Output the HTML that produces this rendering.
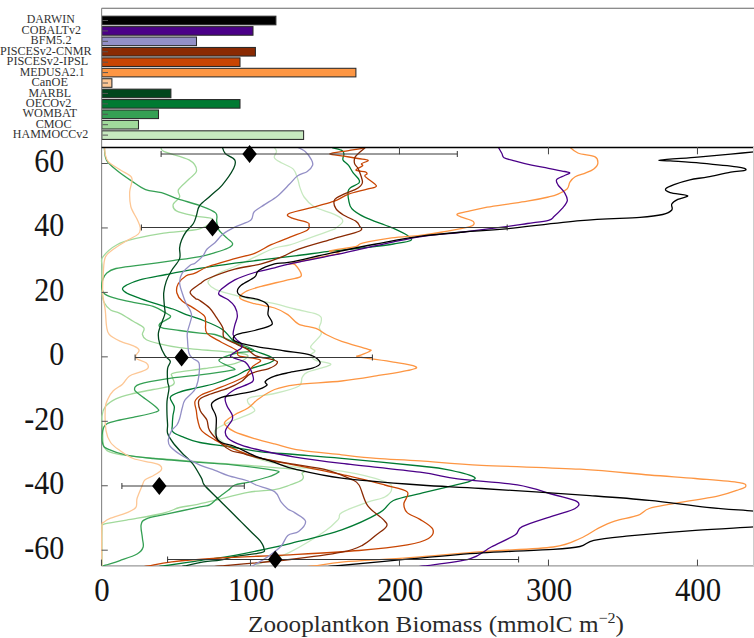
<!DOCTYPE html>
<html><head><meta charset="utf-8"><style>
html,body{margin:0;padding:0;background:#fff;width:754px;height:638px;overflow:hidden}
svg{display:block}
.lab{font-family:"Liberation Serif",serif;font-size:11.5px;fill:#333}
.tick{font-family:"Liberation Serif",serif;font-size:30px;fill:#151515}
.xl{font-family:"Liberation Serif",serif;font-size:23.5px;fill:#2a2a2a}
</style></head><body>
<svg width="754" height="638" viewBox="0 0 754 638">
<rect x="101.8" y="16.20" width="174.10" height="8.6" fill="#000000" stroke="#2a2a2a" stroke-width="1.05"/>
<line x1="102.5" y1="20.50" x2="108" y2="20.50" stroke="#555" stroke-width="1"/>
<text x="50.75" y="23.40" text-anchor="middle" textLength="48.1" lengthAdjust="spacingAndGlyphs" class="lab">DARWIN</text>
<rect x="101.8" y="26.62" width="151.20" height="8.6" fill="#4b0088" stroke="#2a2a2a" stroke-width="1.05"/>
<line x1="102.5" y1="30.92" x2="108" y2="30.92" stroke="#555" stroke-width="1"/>
<text x="51.30" y="33.84" text-anchor="middle" textLength="59.4" lengthAdjust="spacingAndGlyphs" class="lab">COBALTv2</text>
<rect x="101.8" y="37.04" width="94.70" height="8.6" fill="#938fc6" stroke="#2a2a2a" stroke-width="1.05"/>
<line x1="102.5" y1="41.34" x2="108" y2="41.34" stroke="#555" stroke-width="1"/>
<text x="51.05" y="44.29" text-anchor="middle" textLength="40.9" lengthAdjust="spacingAndGlyphs" class="lab">BFM5.2</text>
<rect x="101.8" y="47.46" width="153.60" height="8.6" fill="#8a2a03" stroke="#2a2a2a" stroke-width="1.05"/>
<line x1="102.5" y1="51.76" x2="108" y2="51.76" stroke="#555" stroke-width="1"/>
<text x="45.80" y="54.73" text-anchor="middle" textLength="91.6" lengthAdjust="spacingAndGlyphs" class="lab">PISCESv2-CNMR</text>
<rect x="101.8" y="57.88" width="138.20" height="8.6" fill="#c84503" stroke="#2a2a2a" stroke-width="1.05"/>
<line x1="102.5" y1="62.18" x2="108" y2="62.18" stroke="#555" stroke-width="1"/>
<text x="47.45" y="65.18" text-anchor="middle" textLength="81.7" lengthAdjust="spacingAndGlyphs" class="lab">PISCESv2-IPSL</text>
<rect x="101.8" y="68.30" width="254.10" height="8.6" fill="#fd9643" stroke="#2a2a2a" stroke-width="1.05"/>
<line x1="102.5" y1="72.60" x2="108" y2="72.60" stroke="#555" stroke-width="1"/>
<text x="52.15" y="75.62" text-anchor="middle" textLength="64.9" lengthAdjust="spacingAndGlyphs" class="lab">MEDUSA2.1</text>
<rect x="101.8" y="78.72" width="10.10" height="8.6" fill="#fdc795" stroke="#2a2a2a" stroke-width="1.05"/>
<line x1="102.5" y1="83.02" x2="108" y2="83.02" stroke="#555" stroke-width="1"/>
<text x="49.75" y="86.07" text-anchor="middle" textLength="36.5" lengthAdjust="spacingAndGlyphs" class="lab">CanOE</text>
<rect x="101.8" y="89.14" width="69.10" height="8.6" fill="#00471d" stroke="#2a2a2a" stroke-width="1.05"/>
<line x1="102.5" y1="93.44" x2="108" y2="93.44" stroke="#555" stroke-width="1"/>
<text x="49.75" y="96.52" text-anchor="middle" textLength="42.5" lengthAdjust="spacingAndGlyphs" class="lab">MARBL</text>
<rect x="101.8" y="99.56" width="138.20" height="8.6" fill="#007a32" stroke="#2a2a2a" stroke-width="1.05"/>
<line x1="102.5" y1="103.86" x2="108" y2="103.86" stroke="#555" stroke-width="1"/>
<text x="48.65" y="106.96" text-anchor="middle" textLength="45.7" lengthAdjust="spacingAndGlyphs" class="lab">OECOv2</text>
<rect x="101.8" y="109.98" width="56.70" height="8.6" fill="#35a054" stroke="#2a2a2a" stroke-width="1.05"/>
<line x1="102.5" y1="114.28" x2="108" y2="114.28" stroke="#555" stroke-width="1"/>
<text x="49.75" y="117.41" text-anchor="middle" textLength="54.5" lengthAdjust="spacingAndGlyphs" class="lab">WOMBAT</text>
<rect x="101.8" y="120.40" width="36.70" height="8.6" fill="#a1d99b" stroke="#2a2a2a" stroke-width="1.05"/>
<line x1="102.5" y1="124.70" x2="108" y2="124.70" stroke="#555" stroke-width="1"/>
<text x="53.60" y="127.85" text-anchor="middle" textLength="35.8" lengthAdjust="spacingAndGlyphs" class="lab">CMOC</text>
<rect x="101.8" y="130.82" width="201.80" height="8.6" fill="#c7e9c0" stroke="#2a2a2a" stroke-width="1.05"/>
<line x1="102.5" y1="135.12" x2="108" y2="135.12" stroke="#555" stroke-width="1"/>
<text x="50.55" y="138.30" text-anchor="middle" textLength="75.5" lengthAdjust="spacingAndGlyphs" class="lab">HAMMOCCv2</text>
<line x1="101.6" y1="8.2" x2="754" y2="8.2" stroke="#666" stroke-width="1.1"/>
<line x1="101.6" y1="8.2" x2="101.6" y2="147" stroke="#888" stroke-width="1.1"/>
<line x1="101.6" y1="147" x2="101.6" y2="566" stroke="#888" stroke-width="1.1"/>
<line x1="101.5" y1="565.9" x2="754" y2="565.9" stroke="#999" stroke-width="1.2"/>
<defs><clipPath id="pc"><rect x="100" y="147.5" width="660" height="418.5"/></clipPath></defs>
<g clip-path="url(#pc)" fill="none" stroke-width="1.3" stroke-linejoin="round" stroke-linecap="round">
<path d="M273.3,146.0 C273.8,146.9 276.3,149.5 276.5,151.4 C276.7,153.3 273.5,155.8 274.4,157.7 C275.3,159.6 278.6,161.1 281.8,163.0 C285.0,164.9 290.9,166.7 293.5,169.4 C296.1,172.1 296.6,176.0 297.7,179.0 C298.8,182.0 298.8,184.4 299.9,187.4 C301.0,190.4 301.8,193.8 304.1,197.0 C306.4,200.2 309.3,203.8 313.7,206.5 C318.1,209.2 326.0,211.0 330.6,212.9 C335.2,214.8 339.2,216.6 341.2,218.2 C343.1,219.8 343.2,220.9 342.3,222.5 C341.4,224.1 337.8,226.7 336.0,228.0 C334.2,229.3 336.2,228.4 331.4,230.2 C326.6,232.0 314.1,236.4 307.2,238.8 C300.3,241.2 295.4,243.3 290.0,244.8 C284.6,246.3 280.5,245.9 274.6,248.0 C268.7,250.1 261.3,254.1 254.7,257.2 C248.1,260.3 240.8,263.8 234.8,266.5 C228.8,269.2 223.3,270.8 218.9,273.2 C214.5,275.6 209.6,278.9 208.3,281.1 C207.0,283.3 208.7,284.6 210.9,286.4 C213.1,288.2 215.3,289.7 221.5,291.7 C227.7,293.7 239.2,296.4 248.0,298.4 C256.9,300.4 266.8,301.9 274.6,303.7 C282.4,305.5 288.1,307.3 295.0,309.0 C301.9,310.7 311.6,312.4 315.9,313.8 C320.2,315.2 320.1,315.8 321.0,317.2 C321.9,318.6 321.3,320.7 321.0,322.4 C320.7,324.1 319.3,325.6 319.3,327.6 C319.3,329.6 322.4,331.3 321.0,334.5 C319.6,337.7 311.7,343.9 310.7,346.6 C309.7,349.3 315.0,349.5 315.0,350.9 C315.0,352.3 310.6,353.6 310.7,355.2 C310.8,356.8 312.6,358.9 315.9,360.3 C319.2,361.7 329.1,362.7 330.5,363.8 C331.9,364.9 328.4,365.8 324.5,367.2 C320.6,368.6 310.9,370.7 307.2,372.4 C303.5,374.1 303.5,375.3 302.1,377.6 C300.7,379.9 303.2,383.6 298.6,386.2 C294.0,388.8 282.6,391.6 274.6,393.5 C266.6,395.4 255.1,395.9 250.7,397.4 C246.3,398.9 247.3,400.5 248.0,402.7 C248.7,404.9 255.8,408.3 254.7,410.7 C253.6,413.1 245.8,415.3 241.4,417.3 C237.0,419.3 232.6,420.4 228.2,422.6 C223.8,424.8 216.4,427.9 214.9,430.6 C213.4,433.3 215.6,435.5 218.9,438.6 C222.2,441.7 227.7,445.7 234.8,449.2 C241.9,452.7 251.3,456.8 261.3,459.8 C271.3,462.8 281.6,465.1 295.0,467.0 C308.4,468.9 326.7,468.8 341.7,471.2 C356.7,473.6 376.5,478.6 384.8,481.5 C393.1,484.4 391.7,485.8 391.7,488.4 C391.7,491.0 388.8,494.7 384.8,497.0 C380.8,499.3 374.8,499.6 367.6,502.2 C360.4,504.8 346.6,509.7 341.7,512.6 C336.8,515.5 341.2,516.2 338.3,519.4 C335.4,522.5 332.6,526.0 324.5,531.5 C316.4,537.0 299.1,547.5 290.0,552.2 C280.9,557.0 276.7,557.5 270.0,560.0 C263.3,562.5 253.3,565.8 250.0,567.0" stroke="#c7e9c0"/>
<path d="M161.5,146.0 C161.9,146.9 159.1,149.1 163.7,151.4 C168.3,153.7 183.6,156.7 189.1,159.9 C194.6,163.1 196.6,167.3 196.6,170.5 C196.6,173.7 192.1,175.8 189.1,179.0 C186.1,182.2 180.1,186.6 178.5,189.6 C176.9,192.6 180.5,194.5 179.6,197.0 C178.7,199.5 173.7,202.1 173.2,204.4 C172.7,206.7 172.7,208.9 176.4,210.8 C180.1,212.8 189.5,214.7 195.5,216.1 C201.5,217.5 211.8,217.2 212.5,219.3 C213.2,221.4 207.8,226.5 199.7,228.8 C191.6,231.1 174.3,231.5 163.7,233.1 C153.1,234.7 143.9,236.5 136.1,238.4 C128.3,240.3 122.6,241.6 117.0,244.7 C111.4,247.8 105.2,253.6 102.7,257.2 C100.2,260.8 102.1,260.5 102.0,266.5 C101.9,272.5 101.7,287.0 102.0,293.0 C102.3,299.0 102.6,299.5 104.0,302.3 C105.4,305.1 107.9,308.2 110.6,310.0 C113.2,311.8 116.1,311.4 119.9,313.3 C123.7,315.2 129.2,318.8 133.2,321.2 C137.2,323.6 142.3,325.7 143.8,327.9 C145.3,330.1 142.0,332.5 142.4,334.5 C142.8,336.5 143.5,338.2 146.4,339.8 C149.3,341.4 154.2,342.5 159.7,343.8 C165.2,345.1 172.9,346.7 179.6,347.7 C186.3,348.7 190.8,348.9 200.0,349.7 C209.2,350.5 226.8,351.6 234.8,352.6 C242.8,353.7 248.0,354.2 248.0,356.0 C248.0,357.8 242.0,361.5 234.8,363.6 C227.6,365.7 215.1,366.9 205.0,368.5 C194.9,370.1 179.8,371.5 174.3,372.9 C168.9,374.3 172.3,375.2 172.3,376.9 C172.3,378.6 174.6,381.3 174.3,382.9 C174.0,384.4 173.8,385.1 170.3,386.2 C166.8,387.3 159.3,388.3 153.1,389.5 C146.9,390.7 139.4,391.9 133.2,393.5 C127.0,395.1 120.6,396.6 115.9,398.8 C111.2,401.0 107.6,403.8 105.3,406.7 C103.0,409.6 102.4,412.0 102.0,416.0 C101.6,420.0 102.4,425.5 102.7,430.6 C103.0,435.7 102.2,442.7 104.0,446.5 C105.8,450.3 107.3,451.4 113.3,453.2 C119.3,455.0 131.0,456.1 139.8,457.1 C148.6,458.1 156.3,458.3 166.3,459.1 C176.3,459.9 178.6,460.1 200.0,461.8 C221.4,463.5 278.0,467.4 295.0,469.4 C312.0,471.4 300.9,472.1 302.1,473.8 C303.3,475.5 304.1,477.9 302.1,479.8 C300.1,481.7 294.6,483.4 290.0,485.0 C285.4,486.6 281.6,488.4 274.6,489.6 C267.6,490.8 257.9,490.5 248.0,492.3 C238.1,494.1 223.7,498.2 214.9,500.3 C206.1,502.4 200.9,503.7 195.0,504.9 C189.1,506.1 185.0,506.1 179.6,507.5 C174.2,508.9 171.2,511.4 162.3,513.5 C153.5,515.6 136.2,518.3 126.5,520.1 C116.8,521.9 108.1,522.5 104.0,524.1 C99.9,525.8 102.3,522.9 102.0,530.0 C101.7,537.1 102.0,560.8 102.0,567.0" stroke="#a1d99b"/>
<path d="M104.2,146.0 C104.6,148.3 104.3,155.8 106.4,159.9 C108.5,164.0 112.8,167.0 117.0,170.5 C121.2,174.0 127.0,177.9 131.8,181.1 C136.6,184.3 140.7,187.7 145.6,189.6 C150.5,191.5 156.0,191.1 161.5,192.7 C167.0,194.3 172.1,197.0 178.5,199.1 C184.9,201.2 193.5,203.2 199.7,205.5 C205.9,207.8 212.8,210.2 215.6,212.9 C218.4,215.6 216.2,218.6 216.7,221.4 C217.2,224.2 217.0,227.1 218.8,229.9 C220.6,232.7 225.0,236.1 227.3,238.4 C229.6,240.7 232.4,242.1 232.6,243.7 C232.8,245.3 231.1,246.5 228.2,248.0 C225.2,249.5 219.6,251.2 214.9,252.6 C210.2,254.0 207.0,255.3 200.0,256.6 C193.0,257.9 182.9,259.2 172.9,260.6 C162.9,262.0 149.3,263.9 139.8,265.2 C130.3,266.5 121.4,267.2 115.9,268.5 C110.4,269.8 108.8,271.3 106.6,273.2 C104.4,275.1 103.5,277.1 102.7,279.8 C101.9,282.5 101.6,286.7 102.0,289.1 C102.4,291.5 103.0,292.8 105.3,294.4 C107.6,295.9 111.2,297.1 115.9,298.4 C120.6,299.7 127.0,301.0 133.2,302.3 C139.4,303.6 147.6,304.5 153.1,306.3 C158.6,308.1 163.4,311.5 166.3,313.3 C169.2,315.1 171.4,315.4 170.3,317.2 C169.2,319.0 161.0,322.1 159.7,323.9 C158.4,325.7 159.0,326.8 162.3,327.9 C165.6,329.0 173.3,329.6 179.6,330.5 C185.9,331.4 194.1,332.5 200.0,333.2 C205.9,333.9 209.1,333.0 214.9,334.5 C220.7,336.0 228.3,339.8 234.8,342.4 C241.3,345.0 253.7,348.6 254.0,350.4 C254.3,352.2 242.7,351.5 236.8,353.1 C231.0,354.8 219.5,357.8 218.9,360.3 C218.3,362.8 231.5,366.6 233.5,368.3 C235.5,370.0 236.4,369.2 230.8,370.3 C225.2,371.4 210.8,373.5 200.0,374.9 C189.2,376.3 176.3,377.3 166.3,378.9 C156.3,380.4 145.1,382.4 139.8,384.2 C134.5,386.0 134.5,387.7 134.5,389.5 C134.5,391.3 136.1,391.7 139.8,394.8 C143.6,397.9 154.3,405.1 157.0,408.0 C159.7,410.9 159.7,410.4 155.7,412.0 C151.7,413.6 139.2,416.0 133.2,417.3 C127.2,418.6 124.3,418.9 119.9,420.0 C115.5,421.1 109.5,422.2 106.6,424.0 C103.7,425.8 103.3,427.3 102.7,430.6 C102.1,433.9 101.8,440.8 102.7,443.9 C103.6,447.0 104.0,447.3 108.0,449.2 C112.0,451.1 119.0,453.6 126.5,455.1 C134.0,456.7 140.8,457.3 153.1,458.5 C165.3,459.7 186.4,461.3 200.0,462.4 C213.6,463.5 222.4,463.8 234.8,465.1 C247.2,466.4 267.5,469.1 274.6,470.4 C281.7,471.7 278.3,471.9 277.2,473.0 C276.1,474.1 272.8,475.4 267.9,477.0 C263.0,478.6 253.5,481.0 248.0,482.3 C242.5,483.6 238.1,483.7 234.8,485.0 C231.5,486.3 231.1,488.1 228.2,490.3 C225.3,492.5 220.6,495.9 217.5,498.3 C214.4,500.7 212.5,503.5 209.6,504.9 C206.7,506.3 207.2,505.3 200.0,506.9 C192.8,508.4 175.2,512.2 166.3,514.2 C157.4,516.2 150.6,517.0 146.4,518.8 C142.2,520.6 141.8,521.6 141.1,524.8 C140.4,528.0 142.1,534.2 142.4,538.0 C142.7,541.8 144.0,544.6 143.1,547.3 C142.2,550.0 141.0,551.8 137.1,554.0 C133.2,556.2 125.2,558.7 119.9,560.6 C114.6,562.5 108.6,564.1 105.3,565.2 C102.0,566.3 100.9,566.7 100.0,567.0" stroke="#35a054"/>
<path d="M330.0,146.5 C330.5,146.7 330.8,147.1 332.8,147.8 C334.8,148.5 340.2,149.5 342.1,150.6 C344.0,151.7 343.8,152.8 343.9,154.3 C344.0,155.9 342.2,158.1 343.0,159.9 C343.8,161.8 346.9,163.2 348.6,165.4 C350.3,167.6 351.5,170.6 353.2,172.9 C354.9,175.2 357.9,177.7 358.8,179.4 C359.7,181.1 360.2,181.7 358.8,183.1 C357.4,184.5 352.2,186.3 350.4,187.7 C348.6,189.1 348.4,189.3 348.1,191.4 C347.8,193.5 348.1,197.3 348.7,200.2 C349.3,203.1 349.2,205.9 351.9,208.7 C354.5,211.5 359.1,214.4 364.6,217.1 C370.1,219.8 380.3,223.2 384.8,225.0 C389.3,226.8 388.0,225.9 391.7,227.6 C395.4,229.3 404.0,233.2 407.2,235.3 C410.4,237.5 413.0,239.1 410.7,240.5 C408.4,241.9 400.6,242.8 393.4,244.0 C386.2,245.2 377.7,246.2 367.6,247.4 C357.6,248.6 345.2,249.5 333.1,250.9 C321.0,252.3 307.0,254.4 295.0,255.9 C283.0,257.4 271.3,258.7 261.3,259.9 C251.3,261.1 245.9,261.6 234.8,263.2 C223.8,264.8 206.4,267.3 195.0,269.2 C183.6,271.1 175.5,272.7 166.3,274.5 C157.1,276.3 146.4,278.0 139.8,279.8 C133.2,281.6 129.4,283.6 126.5,285.1 C123.6,286.7 122.3,287.7 122.5,289.1 C122.7,290.5 125.0,292.1 127.9,293.7 C130.8,295.2 135.2,296.7 139.8,298.4 C144.4,300.1 150.2,301.9 155.7,303.7 C161.2,305.5 167.8,307.2 172.9,309.0 C178.0,310.8 181.7,312.9 186.2,314.6 C190.7,316.3 194.0,316.8 200.0,319.2 C206.0,321.6 215.9,325.1 222.0,329.2 C228.1,333.3 231.5,340.4 236.8,344.0 C242.1,347.6 247.8,347.8 254.0,350.5 C260.2,353.2 275.0,356.8 274.0,360.0 C273.0,363.2 254.5,366.9 248.0,369.6 C241.5,372.3 240.3,373.9 234.8,376.2 C229.3,378.5 221.5,381.5 214.9,383.5 C208.3,385.5 200.9,386.8 195.0,388.2 C189.1,389.6 183.7,390.6 179.6,392.1 C175.5,393.6 171.2,395.0 170.3,397.4 C169.4,399.8 173.9,403.6 174.3,406.7 C174.7,409.8 173.2,412.9 172.9,416.0 C172.6,419.1 172.3,422.4 172.3,425.0 C172.3,427.6 171.2,430.0 172.9,431.9 C174.6,433.8 177.7,434.8 182.2,436.6 C186.7,438.4 192.3,440.9 200.0,442.5 C207.7,444.1 218.0,444.9 228.2,446.5 C238.4,448.1 250.2,450.5 261.3,451.8 C272.4,453.1 281.6,453.4 295.0,454.5 C308.4,455.6 320.9,456.4 341.7,458.3 C362.5,460.2 402.6,464.1 420.0,466.0 C437.4,467.9 436.9,467.6 445.8,469.4 C454.7,471.2 469.3,474.6 473.3,476.6 C477.3,478.6 474.3,479.5 469.7,481.3 C465.1,483.1 454.1,485.2 445.8,487.3 C437.5,489.4 428.7,491.4 420.0,493.6 C411.3,495.8 400.1,497.3 393.4,500.5 C386.7,503.7 388.3,507.7 379.7,512.6 C371.1,517.5 356.6,524.6 341.7,529.8 C326.8,535.0 303.4,540.2 290.0,543.6 C276.6,547.0 270.5,548.0 261.3,550.0 C252.1,552.0 245.9,553.4 234.8,555.3 C223.8,557.2 206.9,559.5 195.0,561.3 C183.1,563.1 170.0,565.0 163.3,566.0 C156.6,567.0 156.4,566.8 155.0,567.0" stroke="#007a32"/>
<path d="M222.0,146.0 C222.5,147.2 223.1,151.2 225.2,153.5 C227.3,155.8 233.3,157.4 234.7,159.9 C236.1,162.4 235.8,164.1 233.7,168.3 C231.6,172.5 225.9,180.7 222.0,185.3 C218.1,189.9 214.0,192.5 210.3,195.9 C206.6,199.3 202.0,202.3 199.7,205.5 C197.4,208.7 197.6,212.0 196.6,215.0 C195.6,218.0 195.2,220.7 193.4,223.5 C191.6,226.3 187.9,229.2 185.9,232.0 C183.9,234.8 182.7,237.3 181.6,240.0 C180.5,242.7 179.9,244.9 179.6,248.0 C179.3,251.1 180.9,254.9 179.6,258.6 C178.3,262.4 173.8,266.8 171.6,270.5 C169.4,274.2 167.6,277.4 166.3,281.1 C165.0,284.9 164.0,289.0 163.7,293.0 C163.4,297.0 164.1,301.6 164.3,305.0 C164.5,308.4 165.3,310.6 165.0,313.3 C164.7,316.0 163.4,317.9 162.3,321.2 C161.2,324.5 158.8,329.4 158.4,333.2 C158.0,337.0 158.6,340.1 159.7,343.8 C160.8,347.6 163.2,352.8 165.0,355.7 C166.8,358.6 169.9,359.2 170.3,361.3 C170.7,363.4 168.1,364.9 167.6,368.3 C167.1,371.7 167.4,378.2 167.6,381.5 C167.8,384.8 169.1,384.9 169.0,388.2 C168.9,391.5 167.3,397.0 167.0,401.4 C166.7,405.8 166.9,410.8 167.0,414.7 C167.1,418.6 167.5,421.9 167.6,425.0 C167.7,428.1 166.7,430.4 167.6,433.3 C168.5,436.2 170.5,439.2 172.9,442.5 C175.3,445.8 178.9,449.6 182.2,453.2 C185.5,456.8 189.6,459.6 192.8,463.8 C196.0,468.0 199.7,474.9 201.6,478.4 C203.5,481.9 201.7,481.7 204.3,485.0 C207.0,488.3 213.1,493.9 217.5,498.3 C221.9,502.7 226.8,507.5 230.8,511.5 C234.8,515.5 237.9,518.6 241.4,522.1 C244.9,525.6 248.9,529.6 252.0,532.7 C255.1,535.8 258.0,538.0 260.0,540.7 C262.0,543.4 263.8,546.7 264.0,548.7 C264.2,550.7 266.2,551.3 261.3,552.6 C256.4,553.9 241.7,555.3 234.8,556.6 C227.9,557.9 225.2,559.3 220.0,560.2 C214.8,561.1 209.6,560.8 203.7,561.8 C197.8,562.8 188.5,565.1 184.6,566.0 C180.7,566.9 180.8,566.8 180.0,567.0" stroke="#00471d"/>
<path d="M104.7,146.0 C104.8,147.2 104.5,150.8 105.1,153.5 C105.7,156.2 105.8,159.2 108.5,162.0 C111.2,164.8 117.3,167.8 121.2,170.5 C125.1,173.2 130.4,174.4 131.8,177.9 C133.2,181.4 129.9,186.9 129.7,191.7 C129.5,196.5 129.6,201.9 130.8,206.5 C132.0,211.1 135.5,215.8 137.1,219.3 C138.7,222.9 140.1,225.3 140.3,227.8 C140.5,230.3 140.3,232.1 138.2,234.1 C136.1,236.1 132.1,237.5 127.9,240.0 C123.8,242.5 117.1,246.4 113.3,249.3 C109.5,252.2 107.0,253.2 105.3,257.2 C103.6,261.2 103.7,267.2 103.3,273.2 C102.9,279.2 102.4,286.8 102.7,293.0 C103.0,299.2 104.7,305.0 105.3,310.6 C105.9,316.2 105.9,322.5 106.6,326.5 C107.3,330.5 107.1,332.1 109.3,334.5 C111.5,336.9 115.7,339.1 119.9,341.1 C124.1,343.1 131.3,344.8 134.5,346.4 C137.7,347.9 138.9,348.8 139.1,350.4 C139.3,351.9 136.1,354.3 135.8,355.7 C135.5,357.1 135.3,357.8 137.1,359.0 C138.9,360.2 144.6,361.4 146.4,363.0 C148.2,364.6 148.8,366.8 147.7,368.3 C146.6,369.8 142.9,370.9 139.8,372.2 C136.7,373.5 132.1,374.2 129.2,376.2 C126.3,378.2 125.2,381.8 122.5,384.2 C119.8,386.6 115.7,388.4 113.3,390.8 C110.9,393.2 109.3,395.9 108.0,398.8 C106.7,401.7 105.6,402.7 105.3,408.0 C105.0,413.3 105.1,424.9 106.0,430.6 C106.9,436.4 108.3,439.2 110.6,442.5 C112.9,445.8 116.1,447.8 119.9,450.5 C123.7,453.2 128.1,456.5 133.2,458.5 C138.3,460.5 146.0,461.3 150.4,462.4 C154.8,463.5 157.9,463.8 159.7,465.1 C161.5,466.4 162.1,468.6 161.0,470.4 C159.9,472.2 155.8,474.1 153.1,475.7 C150.4,477.2 146.9,478.1 145.1,479.7 C143.3,481.2 143.7,481.9 142.4,485.0 C141.1,488.1 138.2,494.6 137.1,498.3 C136.0,502.1 137.6,505.1 135.8,507.5 C134.0,509.9 130.7,511.1 126.5,512.9 C122.3,514.7 114.3,516.7 110.6,518.2 C106.8,519.7 105.5,520.6 104.0,522.1 C102.5,523.6 102.3,519.9 101.9,527.4 C101.5,534.9 101.8,560.4 101.8,567.0" stroke="#fdc795"/>
<path d="M568.6,146.0 C570.1,147.2 573.5,151.2 577.9,153.0 C582.3,154.8 591.8,155.1 595.1,156.9 C598.4,158.7 598.0,161.6 597.8,163.6 C597.6,165.6 595.8,167.3 593.8,168.9 C591.8,170.5 588.9,171.6 585.8,172.9 C582.7,174.2 577.9,175.3 575.2,176.8 C572.6,178.3 571.2,180.1 569.9,182.1 C568.6,184.1 569.3,186.8 567.3,188.8 C565.3,190.8 561.1,192.7 558.0,194.1 C554.9,195.5 553.6,195.8 548.5,197.0 C543.4,198.2 534.4,200.0 527.3,201.2 C520.2,202.4 513.2,203.3 506.1,204.4 C499.0,205.5 490.9,206.5 484.9,207.6 C478.9,208.7 474.6,209.7 470.0,210.8 C465.4,211.9 458.7,212.9 457.3,214.0 C455.9,215.1 458.9,215.9 461.5,217.1 C464.1,218.3 471.8,219.8 473.2,221.4 C474.6,223.0 475.1,224.9 470.0,226.7 C464.9,228.5 450.7,230.6 442.4,232.0 C434.1,233.4 428.4,234.3 420.0,235.3 C411.6,236.3 401.3,236.6 391.7,237.9 C382.1,239.2 368.4,241.7 362.4,243.1 C356.4,244.5 360.9,245.3 355.5,246.6 C350.1,247.9 332.3,249.8 329.7,250.9 C327.1,252.0 340.6,252.6 340.0,253.4 C339.4,254.2 334.5,254.3 326.2,256.0 C317.9,257.7 295.2,262.4 290.0,263.8 C284.8,265.2 293.3,262.7 295.2,264.7 C297.1,266.7 302.4,273.4 301.2,275.9 C300.0,278.4 294.4,278.1 287.8,279.8 C281.2,281.6 268.4,284.4 261.3,286.4 C254.2,288.4 248.9,289.7 245.4,291.7 C241.9,293.7 238.6,296.4 240.1,298.4 C241.6,300.4 248.9,302.1 254.7,303.7 C260.4,305.3 269.1,306.2 274.6,308.0 C280.1,309.8 283.8,311.9 287.8,314.6 C291.8,317.3 293.9,321.8 298.6,324.1 C303.3,326.4 311.3,326.7 315.9,328.4 C320.5,330.1 321.9,332.3 326.2,334.5 C330.5,336.7 334.8,339.0 341.7,341.4 C348.6,343.8 362.9,347.5 367.6,349.1 C372.4,350.7 371.4,349.9 370.2,350.9 C369.0,351.9 362.6,354.2 360.7,355.2 C358.8,356.2 353.6,355.8 359.0,356.9 C364.4,358.0 384.1,360.5 393.4,362.1 C402.7,363.7 412.1,365.1 415.0,366.4 C417.9,367.7 417.2,368.2 410.7,369.8 C404.2,371.4 387.7,374.0 376.2,375.9 C364.7,377.8 355.2,379.5 341.7,381.0 C328.2,382.5 306.2,383.4 295.0,384.8 C283.8,386.2 280.7,387.2 274.6,389.5 C268.6,391.8 263.1,395.7 258.7,398.8 C254.3,401.9 252.0,405.4 248.0,408.0 C244.0,410.6 238.6,412.5 234.8,414.7 C231.1,416.9 227.1,419.5 225.5,421.3 C223.9,423.1 223.9,423.5 225.5,425.3 C227.1,427.1 229.9,429.7 234.8,431.9 C239.7,434.1 248.1,436.6 254.7,438.6 C261.3,440.6 267.0,442.0 274.6,443.9 C282.2,445.8 289.1,448.4 300.3,450.2 C311.5,452.0 329.1,453.4 341.7,454.8 C354.3,456.2 363.1,457.3 376.2,458.3 C389.2,459.3 402.4,459.7 420.0,460.9 C437.6,462.1 454.9,463.9 481.6,465.3 C508.3,466.7 552.1,467.6 580.0,469.2 C607.9,470.8 630.0,473.4 649.2,475.0 C668.4,476.6 680.4,477.2 695.4,478.5 C710.4,479.8 730.8,481.3 739.2,482.6 C747.6,483.9 745.7,485.4 745.7,486.5 C745.7,487.6 743.7,487.9 739.2,489.5 C734.7,491.1 729.6,493.4 718.5,495.8 C707.4,498.2 683.8,501.7 672.3,503.8 C660.8,505.9 655.0,506.6 649.2,508.5 C643.4,510.4 643.5,513.3 637.7,515.4 C631.9,517.5 621.1,519.1 614.6,521.2 C608.1,523.3 604.3,525.2 598.5,528.1 C592.7,531.0 587.5,535.4 580.0,538.5 C572.5,541.6 569.6,544.8 553.2,547.0 C536.8,549.2 505.5,549.9 481.6,551.7 C457.7,553.5 433.0,556.0 410.0,557.7 C387.0,559.4 359.7,560.4 343.7,561.8 C327.7,563.2 321.3,565.1 314.0,566.0 C306.7,566.9 302.3,566.8 300.0,567.0" stroke="#fd9643"/>
<path d="M366.0,146.5 C365.7,146.7 367.3,147.1 364.4,147.8 C361.5,148.5 354.3,149.6 348.6,150.6 C342.9,151.6 330.8,152.9 330.0,153.8 C329.2,154.7 339.2,155.3 343.9,156.1 C348.5,156.9 353.9,157.8 357.9,158.5 C361.9,159.2 367.5,159.5 368.1,160.3 C368.7,161.2 362.5,162.7 361.6,163.6 C360.7,164.5 363.4,164.8 362.5,165.9 C361.6,167.0 355.5,169.1 356.0,170.1 C356.5,171.1 363.4,171.3 365.3,171.9 C367.2,172.5 367.1,173.0 367.1,173.8 C367.1,174.6 363.8,174.6 365.3,176.6 C366.9,178.6 376.1,183.8 376.4,185.9 C376.7,188.0 371.7,187.7 367.1,189.1 C362.5,190.5 353.6,192.4 348.6,194.2 C343.7,196.0 340.4,198.5 337.4,199.8 C334.4,201.2 335.6,200.8 330.6,202.3 C325.6,203.8 314.4,206.8 307.3,208.7 C300.2,210.6 290.7,212.4 288.2,214.0 C285.7,215.6 289.2,216.8 292.4,218.2 C295.6,219.6 304.5,221.4 307.3,222.5 C310.1,223.6 309.0,223.7 309.0,225.0 C309.0,226.3 310.4,228.2 307.2,230.2 C304.0,232.2 296.0,234.7 290.0,237.1 C284.0,239.5 277.1,242.0 271.2,244.7 C265.3,247.4 260.8,251.0 254.7,253.3 C248.6,255.6 242.5,256.4 234.8,258.6 C227.1,260.8 214.9,264.1 208.3,266.5 C201.7,268.9 198.7,271.6 195.0,273.2 C191.3,274.8 189.0,274.0 186.2,275.8 C183.4,277.6 179.8,280.9 178.2,283.8 C176.6,286.7 176.2,290.1 176.9,293.0 C177.6,295.9 179.5,298.6 182.2,301.0 C184.8,303.4 189.1,305.1 192.8,307.6 C196.5,310.1 202.2,313.4 204.3,315.9 C206.4,318.4 205.2,319.6 205.6,322.5 C206.0,325.4 204.3,329.9 206.9,333.2 C209.5,336.4 215.9,339.1 220.9,342.0 C225.9,344.9 233.8,348.2 236.8,350.5 C239.8,352.8 235.1,354.2 239.0,355.8 C242.9,357.4 257.9,358.2 260.2,360.0 C262.5,361.8 254.8,364.1 252.7,366.4 C250.6,368.7 248.6,372.2 247.4,373.8 C246.2,375.4 247.5,374.9 245.4,376.2 C243.3,377.5 239.9,379.3 234.8,381.5 C229.7,383.7 220.4,387.3 214.9,389.5 C209.4,391.7 204.9,392.8 201.6,394.8 C198.3,396.8 195.9,398.8 195.0,401.4 C194.1,404.0 195.9,407.6 196.3,410.7 C196.8,413.8 196.8,416.7 197.7,420.0 C198.6,423.3 198.7,427.3 201.6,430.6 C204.5,433.9 210.5,437.2 214.9,439.9 C219.3,442.5 222.7,444.1 228.2,446.5 C233.7,448.9 241.4,452.3 248.0,454.5 C254.6,456.7 260.1,458.0 267.9,459.8 C275.7,461.6 281.3,462.4 295.0,465.1 C308.7,467.9 335.3,473.0 350.3,476.3 C365.3,479.6 375.3,482.4 384.8,485.0 C394.3,487.6 404.0,488.8 407.2,491.9 C410.4,495.0 403.8,500.4 403.8,503.9 C403.8,507.3 404.5,510.0 407.2,512.6 C409.9,515.2 415.8,516.6 420.0,519.4 C424.2,522.1 431.3,525.9 432.7,529.1 C434.1,532.3 432.7,535.9 428.5,538.5 C424.3,541.1 418.9,542.9 407.3,544.9 C395.7,546.9 378.6,548.9 359.0,550.5 C339.4,552.1 313.2,553.5 290.0,554.8 C266.8,556.0 239.7,556.8 220.0,558.0 C200.3,559.2 183.7,560.5 171.8,561.8 C159.9,563.1 153.8,565.1 148.5,566.0 C143.2,566.9 141.4,566.8 140.0,567.0" stroke="#c84503"/>
<path d="M366.0,146.5 C365.7,146.8 365.3,147.4 364.4,148.2 C363.5,149.0 362.2,150.0 360.6,151.5 C359.1,153.0 356.1,155.1 355.1,157.1 C354.1,159.1 354.1,161.8 354.6,163.6 C355.1,165.4 356.9,166.3 357.9,168.2 C358.9,170.0 359.8,172.4 360.6,174.7 C361.4,177.0 362.5,180.2 362.5,182.1 C362.5,184.0 361.8,184.7 360.6,185.9 C359.4,187.2 357.9,188.2 355.1,189.6 C352.3,191.0 347.3,192.5 343.9,194.2 C340.5,195.9 335.9,197.4 334.6,199.8 C333.3,202.2 334.4,206.2 335.9,208.7 C337.4,211.2 340.0,212.9 343.4,215.0 C346.8,217.1 353.4,219.6 356.1,221.4 C358.8,223.2 358.9,224.4 359.5,226.0 C360.1,227.6 364.2,228.9 359.8,231.0 C355.4,233.1 343.3,235.8 333.1,238.8 C322.9,241.8 307.2,246.0 298.6,249.1 C290.0,252.2 287.4,254.7 281.2,257.2 C275.0,259.7 269.0,261.9 261.3,263.9 C253.6,265.9 243.6,266.8 234.8,269.2 C226.0,271.6 214.1,276.1 208.3,278.5 C202.5,280.9 203.0,281.6 200.0,283.8 C197.0,286.0 190.9,289.3 190.2,291.7 C189.4,294.1 194.0,297.0 195.5,298.4 C197.0,299.8 196.7,298.4 199.0,300.0 C201.3,301.6 206.7,305.1 209.6,308.0 C212.5,310.9 214.0,313.9 216.2,317.2 C218.4,320.5 221.6,324.5 222.9,327.9 C224.2,331.3 221.8,335.0 224.1,337.7 C226.4,340.4 232.9,342.2 236.8,344.1 C240.7,346.1 244.2,347.4 247.4,349.4 C250.6,351.3 251.5,354.0 255.9,355.8 C260.3,357.6 270.5,358.8 274.0,360.0 C277.5,361.2 277.9,361.8 277.1,363.2 C276.3,364.6 273.7,366.6 269.3,368.3 C264.9,370.0 255.3,371.4 250.7,373.6 C246.0,375.8 245.2,379.1 241.4,381.5 C237.7,383.9 233.7,386.0 228.2,388.2 C222.7,390.4 213.2,392.8 208.3,394.8 C203.4,396.8 200.3,397.5 199.0,400.1 C197.7,402.8 199.0,407.4 200.3,410.7 C201.6,414.0 205.4,416.7 206.9,420.0 C208.4,423.3 207.2,426.6 209.6,430.6 C212.0,434.6 218.0,440.6 221.5,443.9 C225.0,447.2 227.5,448.9 230.8,450.5 C234.1,452.1 236.3,451.9 241.4,453.2 C246.5,454.5 252.4,456.6 261.3,458.5 C270.2,460.4 284.5,462.6 295.0,464.4 C305.5,466.2 315.3,467.0 324.5,469.4 C333.7,471.8 344.6,476.3 350.3,478.9 C356.1,481.5 356.1,480.5 359.0,485.0 C361.9,489.5 363.6,500.0 367.6,505.7 C371.6,511.4 379.9,516.0 383.1,519.4 C386.3,522.8 387.8,523.7 386.6,526.3 C385.5,528.9 380.2,531.8 376.2,535.0 C372.2,538.2 368.1,542.4 362.4,545.3 C356.6,548.2 353.8,549.8 341.7,552.2 C329.6,554.6 310.0,557.2 290.0,559.5 C270.0,561.8 234.8,564.8 221.5,566.0 C208.2,567.2 211.9,566.8 210.0,567.0" stroke="#8a2a03"/>
<path d="M294.6,146.0 C296.4,146.9 302.4,149.1 305.2,151.4 C308.0,153.7 310.3,157.6 311.5,159.9 C312.7,162.2 313.3,163.3 312.6,165.2 C311.9,167.1 309.8,169.7 307.3,171.5 C304.8,173.3 300.7,173.7 297.7,175.8 C294.7,177.9 292.6,181.0 289.3,184.3 C286.0,187.7 281.7,192.6 277.6,195.9 C273.5,199.2 268.8,201.8 264.9,204.4 C261.0,207.1 256.6,209.2 254.2,211.8 C251.8,214.5 253.8,217.8 250.7,220.3 C247.6,222.8 240.4,224.4 235.8,226.7 C231.2,229.0 226.6,231.4 223.1,234.1 C219.6,236.8 217.6,240.2 214.9,242.7 C212.2,245.2 208.9,247.1 206.9,249.3 C204.9,251.5 205.0,253.6 203.0,255.9 C201.0,258.2 197.1,261.6 195.0,263.2 C192.9,264.8 192.3,263.5 190.2,265.2 C188.1,266.9 184.0,270.3 182.2,273.2 C180.4,276.1 179.6,279.1 179.6,282.4 C179.6,285.7 181.1,289.4 182.2,293.0 C183.3,296.6 184.9,300.8 186.2,303.7 C187.5,306.6 189.3,308.4 190.2,310.6 C191.1,312.9 191.9,313.7 191.5,317.2 C191.1,320.7 188.2,328.0 187.5,331.8 C186.8,335.6 187.3,336.3 187.5,339.8 C187.7,343.3 188.0,349.9 188.9,353.0 C189.8,356.1 191.1,356.7 192.8,358.4 C194.5,360.1 198.0,360.2 199.0,363.0 C200.0,365.8 199.4,370.9 199.0,374.9 C198.6,378.9 197.3,383.9 196.3,386.8 C195.3,389.7 194.7,389.9 192.8,392.1 C190.9,394.3 186.7,397.5 184.9,400.1 C183.1,402.8 183.1,404.9 182.2,408.0 C181.3,411.1 180.5,415.9 179.6,418.7 C178.7,421.5 178.2,423.0 176.9,425.0 C175.6,427.0 173.0,428.1 171.6,430.6 C170.2,433.1 168.5,437.2 168.3,439.9 C168.1,442.5 168.0,443.9 170.3,446.5 C172.6,449.1 177.2,452.7 182.2,455.8 C187.1,458.9 194.6,462.7 200.0,465.1 C205.4,467.5 210.2,468.6 214.9,470.4 C219.6,472.2 222.7,473.9 228.2,475.7 C233.7,477.5 243.4,479.4 248.0,481.0 C252.6,482.6 251.6,483.2 256.0,485.0 C260.4,486.8 270.4,488.7 274.6,491.6 C278.8,494.5 279.0,499.3 281.2,502.2 C283.4,505.1 285.5,507.1 287.8,508.9 C290.1,510.7 292.1,510.8 295.0,512.9 C297.9,515.0 304.9,518.1 305.5,521.2 C306.1,524.3 301.6,529.1 298.6,531.5 C295.7,533.9 290.7,533.0 287.8,535.4 C284.9,537.8 284.5,542.5 281.2,546.0 C277.9,549.5 273.1,553.1 268.0,556.6 C262.9,560.1 253.6,565.3 250.7,567.0" stroke="#938fc6"/>
<path d="M497.6,146.0 C498.3,147.2 500.8,151.6 501.9,153.5 C503.0,155.4 501.9,156.5 504.0,157.7 C506.1,158.9 510.0,159.7 514.6,160.9 C519.2,162.2 526.0,164.0 531.6,165.2 C537.2,166.4 543.0,167.2 548.5,168.3 C554.0,169.4 561.0,170.7 564.6,171.5 C568.2,172.3 569.9,172.2 569.9,172.9 C569.9,173.6 566.8,174.4 564.6,175.5 C562.4,176.6 557.8,177.9 556.7,179.5 C555.6,181.1 556.7,182.6 558.0,184.8 C559.3,187.0 563.1,190.0 564.6,192.7 C566.1,195.3 567.7,198.0 567.3,200.7 C566.9,203.4 564.2,206.0 562.0,208.7 C559.8,211.3 556.2,214.7 554.0,216.6 C551.8,218.5 553.0,219.2 548.5,220.3 C544.0,221.5 534.4,222.4 527.3,223.5 C520.2,224.6 516.7,225.3 506.1,226.7 C495.5,228.1 477.9,230.3 463.7,232.0 C449.5,233.7 435.8,234.4 421.2,236.7 C406.6,239.0 390.9,242.6 376.2,245.7 C361.5,248.8 347.5,252.2 333.1,255.2 C318.7,258.2 299.8,261.7 290.0,263.8 C280.2,265.9 280.5,266.4 274.6,267.9 C268.7,269.3 261.3,270.5 254.7,272.5 C248.1,274.5 240.3,277.0 234.8,279.8 C229.3,282.6 224.2,286.7 221.5,289.1 C218.8,291.5 217.8,292.6 218.9,294.4 C220.0,296.2 225.5,297.7 228.2,299.7 C230.8,301.7 233.3,303.9 234.8,306.6 C236.3,309.3 237.4,312.8 237.4,315.9 C237.4,319.0 235.5,322.1 234.8,325.2 C234.1,328.3 232.8,332.1 233.1,334.5 C233.4,336.9 235.4,338.3 236.8,339.9 C238.2,341.5 240.9,342.7 241.6,344.1 C242.3,345.5 241.9,347.2 241.1,348.3 C240.3,349.4 238.6,349.8 236.8,351.0 C235.0,352.2 231.0,354.7 230.5,355.8 C230.0,356.9 231.1,356.8 233.6,357.9 C236.1,358.9 242.5,360.2 245.3,362.1 C248.1,364.1 249.2,366.6 250.6,369.6 C251.9,372.6 253.8,377.8 253.4,380.2 C253.0,382.6 251.1,382.6 248.0,384.2 C244.9,385.8 238.6,387.3 234.8,389.5 C231.1,391.7 226.8,394.8 225.5,397.4 C224.2,400.0 225.7,402.5 226.8,405.4 C227.9,408.3 231.2,412.3 232.1,414.7 C233.0,417.1 233.2,417.4 232.1,420.0 C231.0,422.6 226.2,427.5 225.5,430.6 C224.8,433.7 225.5,436.2 228.2,438.6 C230.8,441.0 235.9,443.2 241.4,445.2 C246.9,447.2 252.4,448.5 261.3,450.5 C270.2,452.5 281.6,455.0 295.0,457.1 C308.4,459.2 320.9,460.9 341.7,463.4 C362.5,465.9 400.7,469.5 420.0,472.1 C439.3,474.7 441.5,476.8 457.7,478.9 C473.9,481.0 501.5,482.3 517.4,484.9 C533.3,487.5 543.2,491.7 553.2,494.5 C563.2,497.3 573.5,499.2 577.1,501.6 C580.7,504.0 578.7,506.4 574.7,508.8 C570.7,511.2 562.0,512.9 553.2,515.9 C544.5,518.9 528.6,523.5 522.2,526.7 C515.8,529.9 520.2,531.6 515.0,535.0 C509.8,538.4 498.8,543.0 491.2,547.0 C483.6,551.0 480.8,555.7 469.7,558.9 C458.6,562.1 434.2,564.6 424.3,566.0 C414.4,567.4 412.4,566.8 410.0,567.0" stroke="#4b0088"/>
<path d="M790.0,148.0 C784.1,148.6 764.8,150.8 754.9,151.8 C745.0,152.8 740.3,153.2 730.7,154.1 C721.1,155.0 709.2,156.1 697.5,157.1 C685.8,158.1 664.9,159.5 660.4,160.1 C655.9,160.7 663.5,160.4 670.2,160.9 C676.9,161.4 689.4,162.1 700.5,163.1 C711.6,164.1 729.2,165.8 736.8,166.9 C744.3,168.0 746.8,169.0 745.8,169.9 C744.8,170.8 737.0,171.0 730.7,172.2 C724.4,173.3 714.8,175.5 708.0,176.8 C701.2,178.1 695.4,178.6 689.9,179.8 C684.4,181.1 678.8,182.8 674.8,184.3 C670.8,185.8 666.5,187.4 665.7,188.8 C664.9,190.2 666.6,191.4 670.2,192.6 C673.9,193.8 686.3,194.6 687.6,195.7 C688.9,196.8 680.4,198.0 677.8,199.4 C675.2,200.8 672.8,202.2 671.8,204.0 C670.8,205.8 673.3,208.2 671.8,210.0 C670.3,211.8 668.0,213.3 662.7,214.5 C657.4,215.7 653.7,216.3 640.0,217.3 C626.3,218.3 602.8,218.7 580.5,220.6 C558.2,222.5 525.6,226.9 506.1,228.8 C486.6,230.7 477.9,230.8 463.7,232.0 C449.5,233.2 435.8,234.2 421.2,236.2 C406.6,238.2 390.9,241.3 376.2,244.0 C361.5,246.7 347.5,249.6 333.1,252.6 C318.7,255.6 299.8,260.2 290.0,262.1 C280.2,264.0 279.8,262.5 274.6,263.9 C269.4,265.3 262.0,268.3 258.7,270.5 C255.4,272.7 257.6,274.7 254.7,277.1 C251.8,279.5 244.3,282.7 241.4,285.1 C238.5,287.5 237.2,289.8 237.4,291.7 C237.6,293.6 239.1,295.1 242.7,296.4 C246.2,297.7 254.5,298.2 258.7,299.7 C262.9,301.2 266.4,302.8 268.0,305.3 C269.6,307.8 267.4,311.4 268.0,314.6 C268.6,317.8 274.1,321.9 271.9,324.5 C269.7,327.1 260.5,328.8 254.7,330.5 C248.8,332.2 240.3,332.9 236.8,334.5 C233.3,336.1 232.7,338.4 233.6,339.9 C234.5,341.4 238.0,342.5 242.1,343.6 C246.2,344.8 250.8,345.6 258.0,346.8 C265.1,348.0 276.2,349.6 285.0,351.0 C293.8,352.4 304.8,353.2 310.7,355.2 C316.6,357.2 319.9,360.8 320.2,362.9 C320.5,365.0 317.4,366.5 312.4,368.1 C307.4,369.7 296.3,371.0 290.0,372.4 C283.7,373.8 278.7,374.7 274.6,376.2 C270.5,377.7 266.6,379.9 265.3,381.5 C264.0,383.1 268.4,383.9 266.6,385.5 C264.8,387.1 260.0,389.2 254.7,390.8 C249.4,392.4 240.3,393.7 234.8,394.8 C229.3,395.9 225.3,396.1 221.5,397.4 C217.7,398.7 213.8,400.9 212.2,402.7 C210.6,404.5 211.5,405.6 212.2,408.0 C212.9,410.4 215.5,412.7 216.2,417.3 C216.9,421.9 215.3,431.7 216.2,435.9 C217.1,440.1 218.4,440.7 221.5,442.5 C224.6,444.3 229.3,444.3 234.8,446.5 C240.3,448.7 248.1,453.2 254.7,455.8 C261.3,458.4 267.9,460.2 274.6,462.4 C281.3,464.6 283.8,466.5 295.0,469.1 C306.2,471.7 320.9,475.5 341.7,478.1 C362.5,480.8 396.7,483.3 420.0,485.0 C443.3,486.7 453.3,486.7 481.6,488.5 C509.9,490.3 562.1,493.6 590.0,495.6 C617.9,497.6 629.7,498.4 649.2,500.4 C668.7,502.3 689.4,505.5 706.9,507.3 C724.4,509.1 738.5,509.9 754.0,511.2 C769.5,512.5 792.3,512.9 800.0,515.0 C807.7,517.1 807.7,522.0 800.0,524.0 C792.3,526.0 771.4,525.8 754.0,526.9 C736.6,528.0 716.7,528.8 695.4,530.4 C674.1,532.0 643.1,534.6 626.2,536.2 C609.3,537.9 601.5,538.6 593.8,540.3 C586.1,542.0 586.8,545.0 580.0,546.5 C573.2,548.0 569.6,548.3 553.2,549.4 C536.8,550.5 505.5,551.3 481.6,552.9 C457.7,554.5 434.4,556.7 410.0,558.9 C385.6,561.1 350.2,564.6 335.2,566.0 C320.2,567.4 322.5,566.8 320.0,567.0" stroke="#000000"/>
</g>
<line x1="754" y1="147.4" x2="101.6" y2="147.4" stroke="#000" stroke-width="1.5"/>
<line x1="753.5" y1="146.5" x2="753.5" y2="566" stroke="#ccc" stroke-width="1"/>
<line x1="101.6" y1="163.50" x2="107.8" y2="163.50" stroke="#555" stroke-width="1"/>
<text transform="translate(64.3,171.90) scale(1.0,1.12)" x="0" y="0" text-anchor="end" class="tick">60</text>
<line x1="101.6" y1="227.95" x2="107.8" y2="227.95" stroke="#555" stroke-width="1"/>
<text transform="translate(64.3,236.35) scale(1.0,1.12)" x="0" y="0" text-anchor="end" class="tick">40</text>
<line x1="101.6" y1="292.40" x2="107.8" y2="292.40" stroke="#555" stroke-width="1"/>
<text transform="translate(64.3,300.80) scale(1.0,1.12)" x="0" y="0" text-anchor="end" class="tick">20</text>
<line x1="101.6" y1="356.85" x2="107.8" y2="356.85" stroke="#555" stroke-width="1"/>
<text transform="translate(64.3,365.25) scale(1.0,1.12)" x="0" y="0" text-anchor="end" class="tick">0</text>
<line x1="101.6" y1="421.30" x2="107.8" y2="421.30" stroke="#555" stroke-width="1"/>
<text transform="translate(64.3,429.70) scale(1.0,1.12)" x="0" y="0" text-anchor="end" class="tick">-20</text>
<line x1="101.6" y1="485.75" x2="107.8" y2="485.75" stroke="#555" stroke-width="1"/>
<text transform="translate(64.3,494.15) scale(1.0,1.12)" x="0" y="0" text-anchor="end" class="tick">-40</text>
<line x1="101.6" y1="550.20" x2="107.8" y2="550.20" stroke="#555" stroke-width="1"/>
<text transform="translate(64.3,558.60) scale(1.0,1.12)" x="0" y="0" text-anchor="end" class="tick">-60</text>
<line x1="101.46" y1="565.8" x2="101.46" y2="559.6" stroke="#444" stroke-width="1"/>
<text transform="translate(102.06,600.6) scale(1.03,1.11)" x="0" y="0" text-anchor="middle" class="tick">0</text>
<line x1="250.46" y1="565.8" x2="250.46" y2="559.6" stroke="#444" stroke-width="1"/>
<line x1="250.46" y1="147" x2="250.46" y2="154.3" stroke="#444" stroke-width="1"/>
<text transform="translate(251.06,600.6) scale(1.03,1.11)" x="0" y="0" text-anchor="middle" class="tick">100</text>
<line x1="399.46" y1="565.8" x2="399.46" y2="559.6" stroke="#444" stroke-width="1"/>
<line x1="399.46" y1="147" x2="399.46" y2="154.3" stroke="#444" stroke-width="1"/>
<text transform="translate(400.06,600.6) scale(1.03,1.11)" x="0" y="0" text-anchor="middle" class="tick">200</text>
<line x1="548.46" y1="565.8" x2="548.46" y2="559.6" stroke="#444" stroke-width="1"/>
<line x1="548.46" y1="147" x2="548.46" y2="154.3" stroke="#444" stroke-width="1"/>
<text transform="translate(549.06,600.6) scale(1.03,1.11)" x="0" y="0" text-anchor="middle" class="tick">300</text>
<line x1="697.46" y1="565.8" x2="697.46" y2="559.6" stroke="#444" stroke-width="1"/>
<line x1="697.46" y1="147" x2="697.46" y2="154.3" stroke="#444" stroke-width="1"/>
<text transform="translate(698.06,600.6) scale(1.03,1.11)" x="0" y="0" text-anchor="middle" class="tick">400</text>
<text x="248" y="631.5" class="xl" textLength="376" lengthAdjust="spacingAndGlyphs">Zoooplantkon Biomass (mmolC m<tspan dy="-9" font-size="15">−2</tspan><tspan dy="9">)</tspan></text>
<line x1="161.1" y1="154.0" x2="457.3" y2="154.0" stroke="#383838" stroke-width="1.0"/>
<line x1="161.1" y1="151.0" x2="161.1" y2="157.0" stroke="#333" stroke-width="1.0"/>
<line x1="457.3" y1="151.0" x2="457.3" y2="157.0" stroke="#333" stroke-width="1.0"/>
<path d="M249.6,145.0 L256.8,154.0 L249.6,163.0 L242.4,154.0 Z" fill="#000"/>
<line x1="141.4" y1="227.5" x2="507.2" y2="227.5" stroke="#383838" stroke-width="1.0"/>
<line x1="141.4" y1="224.5" x2="141.4" y2="230.5" stroke="#333" stroke-width="1.0"/>
<line x1="507.2" y1="224.5" x2="507.2" y2="230.5" stroke="#333" stroke-width="1.0"/>
<path d="M212.5,218.5 L219.7,227.5 L212.5,236.5 L205.3,227.5 Z" fill="#000"/>
<line x1="135.1" y1="357.5" x2="372.4" y2="357.5" stroke="#383838" stroke-width="1.0"/>
<line x1="135.1" y1="354.5" x2="135.1" y2="360.5" stroke="#333" stroke-width="1.0"/>
<line x1="372.4" y1="354.5" x2="372.4" y2="360.5" stroke="#333" stroke-width="1.0"/>
<path d="M181.6,348.5 L188.8,357.5 L181.6,366.5 L174.4,357.5 Z" fill="#000"/>
<line x1="121.9" y1="486.0" x2="244.3" y2="486.0" stroke="#383838" stroke-width="1.0"/>
<line x1="121.9" y1="483.0" x2="121.9" y2="489.0" stroke="#333" stroke-width="1.0"/>
<line x1="244.3" y1="483.0" x2="244.3" y2="489.0" stroke="#333" stroke-width="1.0"/>
<path d="M159.3,477.0 L166.5,486.0 L159.3,495.0 L152.1,486.0 Z" fill="#000"/>
<line x1="167.6" y1="559.5" x2="518.6" y2="559.5" stroke="#383838" stroke-width="1.0"/>
<line x1="167.6" y1="556.5" x2="167.6" y2="562.5" stroke="#333" stroke-width="1.0"/>
<line x1="518.6" y1="556.5" x2="518.6" y2="562.5" stroke="#333" stroke-width="1.0"/>
<path d="M275.2,550.5 L282.4,559.5 L275.2,568.5 L268.0,559.5 Z" fill="#000"/>
</svg></body></html>
